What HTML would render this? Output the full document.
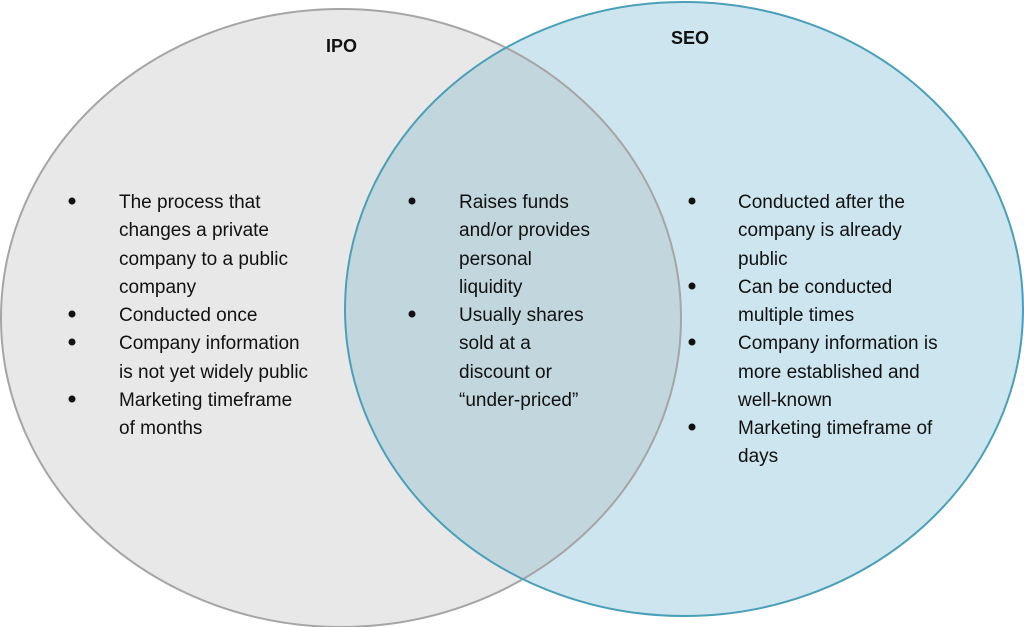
<!DOCTYPE html>
<html><head><style>
body{margin:0;width:1024px;height:627px;background:#fff;overflow:hidden}
svg{display:block}
text{font-family:"Liberation Sans",sans-serif;font-size:19px;fill:#111}
.h{font-weight:bold;font-size:18px}
</style></head><body>
<svg width="1024" height="627" viewBox="0 0 1024 627">
<defs><clipPath id="c"><ellipse cx="684" cy="309" rx="339" ry="307"/></clipPath></defs>
<ellipse cx="341" cy="318" rx="340" ry="309" fill="#e8e8e8"/>
<ellipse cx="684" cy="309" rx="339" ry="307" fill="#cde5ee"/>
<ellipse cx="341" cy="318" rx="340" ry="309" fill="#c2d6dd" clip-path="url(#c)"/>
<ellipse cx="341" cy="318" rx="340" ry="309" fill="none" stroke="#a5a5a5" stroke-width="2"/>
<ellipse cx="684" cy="309" rx="339" ry="307" fill="none" stroke="#4a9fb9" stroke-width="2"/>
<text class="h" x="326" y="52">IPO</text>
<text class="h" x="671" y="44">SEO</text>
<g fill="#111">
<circle cx="72" cy="201" r="3.5"/><circle cx="72" cy="314" r="3.5"/><circle cx="72" cy="342" r="3.5"/><circle cx="72" cy="399" r="3.5"/>
<circle cx="412" cy="201" r="3.5"/><circle cx="412" cy="314" r="3.5"/>
<circle cx="692" cy="201" r="3.5"/><circle cx="692" cy="286" r="3.5"/><circle cx="692" cy="342" r="3.5"/><circle cx="692" cy="427" r="3.5"/>
</g>
<g>
<text x="119" y="208">The process that</text>
<text x="119" y="236">changes a private</text>
<text x="119" y="265">company to a public</text>
<text x="119" y="293">company</text>
<text x="119" y="321">Conducted once</text>
<text x="119" y="349">Company information</text>
<text x="119" y="378">is not yet widely public</text>
<text x="119" y="406">Marketing timeframe</text>
<text x="119" y="434">of months</text>

<text x="459" y="208">Raises funds</text>
<text x="459" y="236">and/or provides</text>
<text x="459" y="265">personal</text>
<text x="459" y="293">liquidity</text>
<text x="459" y="321">Usually shares</text>
<text x="459" y="349">sold at a</text>
<text x="459" y="378">discount or</text>
<text x="459" y="406">“under-priced”</text>

<text x="738" y="208">Conducted after the</text>
<text x="738" y="236">company is already</text>
<text x="738" y="265">public</text>
<text x="738" y="293">Can be conducted</text>
<text x="738" y="321">multiple times</text>
<text x="738" y="349">Company information is</text>
<text x="738" y="378">more established and</text>
<text x="738" y="406">well-known</text>
<text x="738" y="434">Marketing timeframe of</text>
<text x="738" y="462">days</text>
</g>
</svg>
</body></html>
